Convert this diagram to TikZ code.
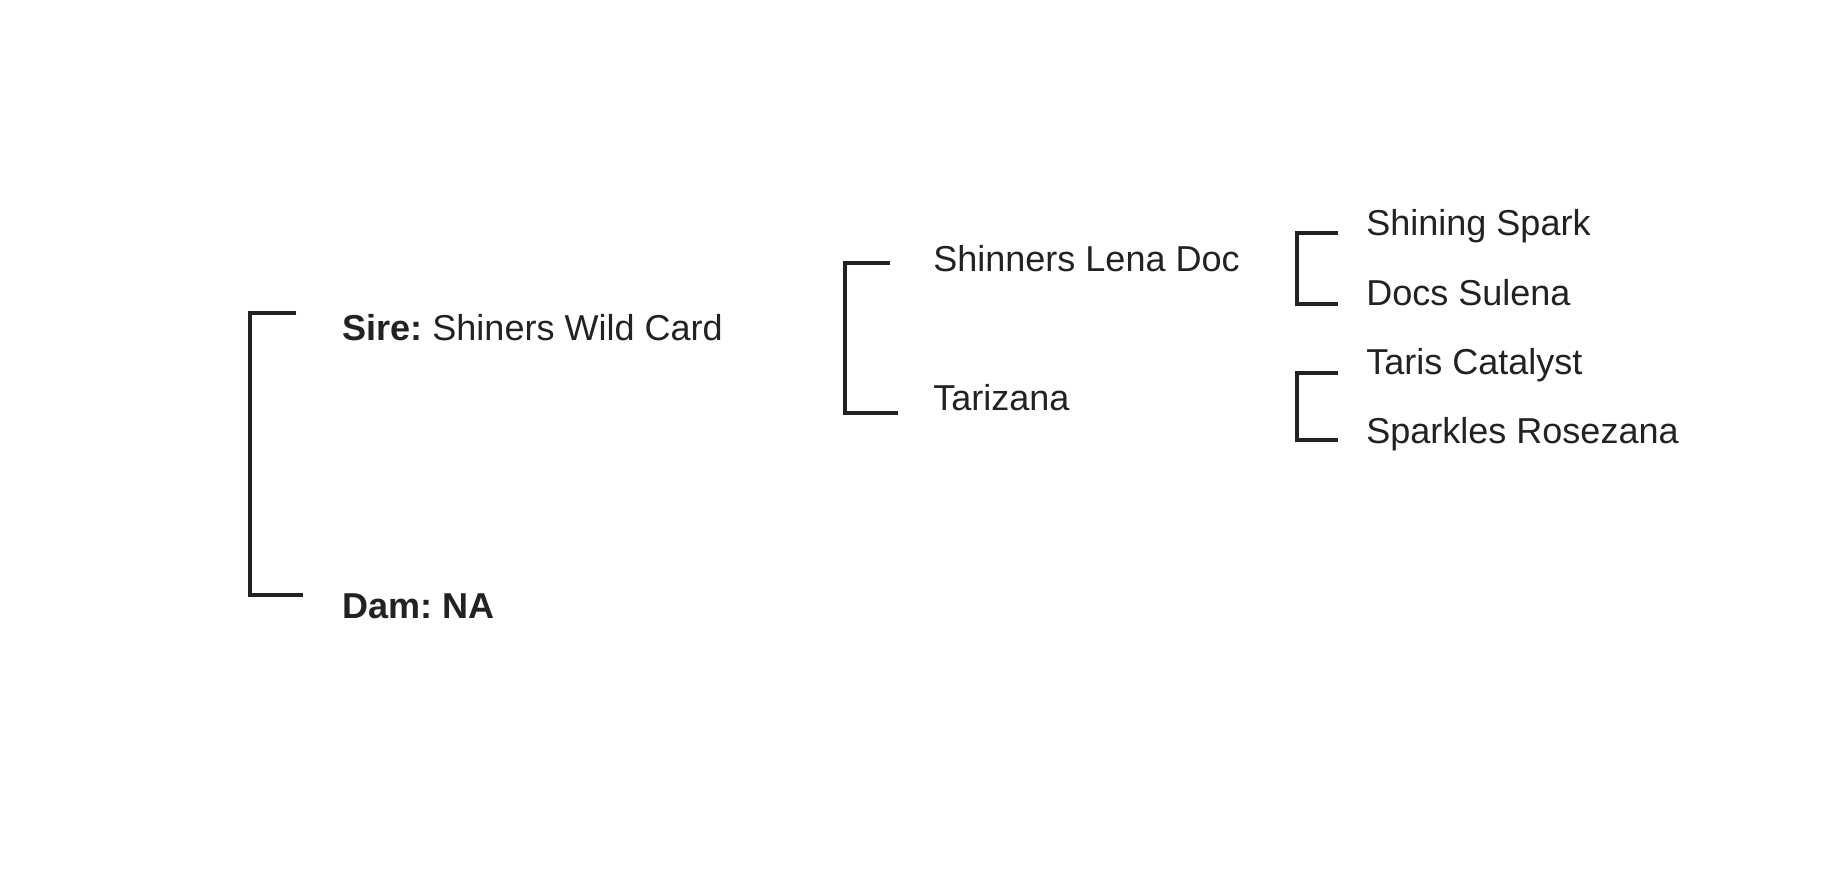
\documentclass[tikz,border=0pt]{standalone}
\usepackage{fontspec}
\setmainfont{Liberation Sans}
\definecolor{pedink}{HTML}{222222}
\frenchspacing

\begin{document}
\begin{tikzpicture}[x=0.02cm, y=-0.02cm, text=pedink,
    font=\fontsize{20.5}{24}\selectfont,
    horse/.style={anchor=base west, inner sep=0pt},
    bracket/.style={draw=pedink, line width=2.3pt},
  ]
  \useasboundingbox (0, 0) rectangle (1822, 886);

  % parents
  \node[horse] (sire) at (342, 340) {\textbf{Sire:} Shiners Wild Card};
  \node[horse] (dam) at (342, 618) {\textbf{Dam: NA}};

  % sire's parents
  \node[horse] (lenadoc) at (933, 271) {Shinners Lena Doc};
  \node[horse] (tarizana) at (933, 410) {Tarizana};

  % great-grandparents
  \node[horse] (shining) at (1366, 235) {Shining Spark};
  \node[horse] (sulena) at (1366, 305) {Docs Sulena};
  \node[horse] (catalyst) at (1366, 374) {Taris Catalyst};
  \node[horse] (rosezana) at (1366, 443) {Sparkles Rosezana};

  % brackets joining each pair
  \draw[bracket] ([shift={(-46,-27)}]sire.base west) -- ++(-46, 0)
    |- ([shift={(-39,-23)}]dam.base west);
  \draw[bracket] ([shift={(-43,-8)}]lenadoc.base west) -- ++(-45, 0)
    |- ([shift={(-35,3)}]tarizana.base west);
  \draw[bracket] ([shift={(-28,-2)}]shining.base west) -- ++(-41, 0)
    |- ([shift={(-28,-1)}]sulena.base west);
  \draw[bracket] ([shift={(-28,-1)}]catalyst.base west) -- ++(-41, 0)
    |- ([shift={(-28,-3)}]rosezana.base west);
\end{tikzpicture}
\end{document}
